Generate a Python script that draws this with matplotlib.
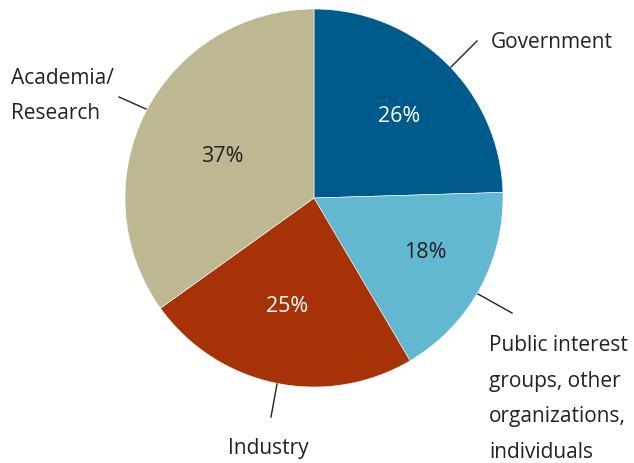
import matplotlib.pyplot as plt

# data
categories = ['Government', 'Public interest\ngroups, other\norganizations,\nindividuals', 'Industry', 'Academia/\nResearch']
shares = [26, 18, 25, 37]
colors = ['#005B8D', '#62B7D1', '#A83208', '#BDB891']
pct_colors = ['white', '#222222', 'white', '#222222']

plt.rcParams['font.family'] = ['Open Sans', 'DejaVu Sans']

W, H = 634, 464
fig = plt.figure(figsize=(W / 100, H / 100), dpi=100)
ax = fig.add_axes([0, 0, 1, 1])

cx, cy, r = 314, H - 199, 189
wedges, _ = ax.pie(shares, colors=colors, startangle=90, counterclock=False,
                   center=(cx, cy), radius=r, frame=True,
                   wedgeprops=dict(linewidth=0.4, edgecolor='white'))
ax.set_xlim(0, W)
ax.set_ylim(0, H)
ax.set_aspect('equal')
ax.axis('off')

# percentage labels
pct_pos = [(399, 117), (425, 252), (287, 306), (222, 157)]
for (x, y), v, c in zip(pct_pos, shares, pct_colors):
    ax.text(x, H - y, f'{v}%', color=c, fontsize=15.5, ha='center', va='center')

# leader lines
leaders = [((451, 68), (477, 42)), ((478, 295), (512, 314)),
           ((277, 385), (271, 418)), ((146, 110), (119, 98))]
for (x0, y0), (x1, y1) in leaders:
    ax.plot([x0, x1], [H - y0, H - y1], color='#222222', lw=1)

# category labels
lab_pos = [(491, 42), (489, 399), (228, 449), (11, 96)]
for (x, y), t in zip(lab_pos, categories):
    ax.text(x, H - y, t, fontsize=15, color='#222222', ha='left', va='center', linespacing=1.9)

fig.savefig('out.png', dpi=100)
